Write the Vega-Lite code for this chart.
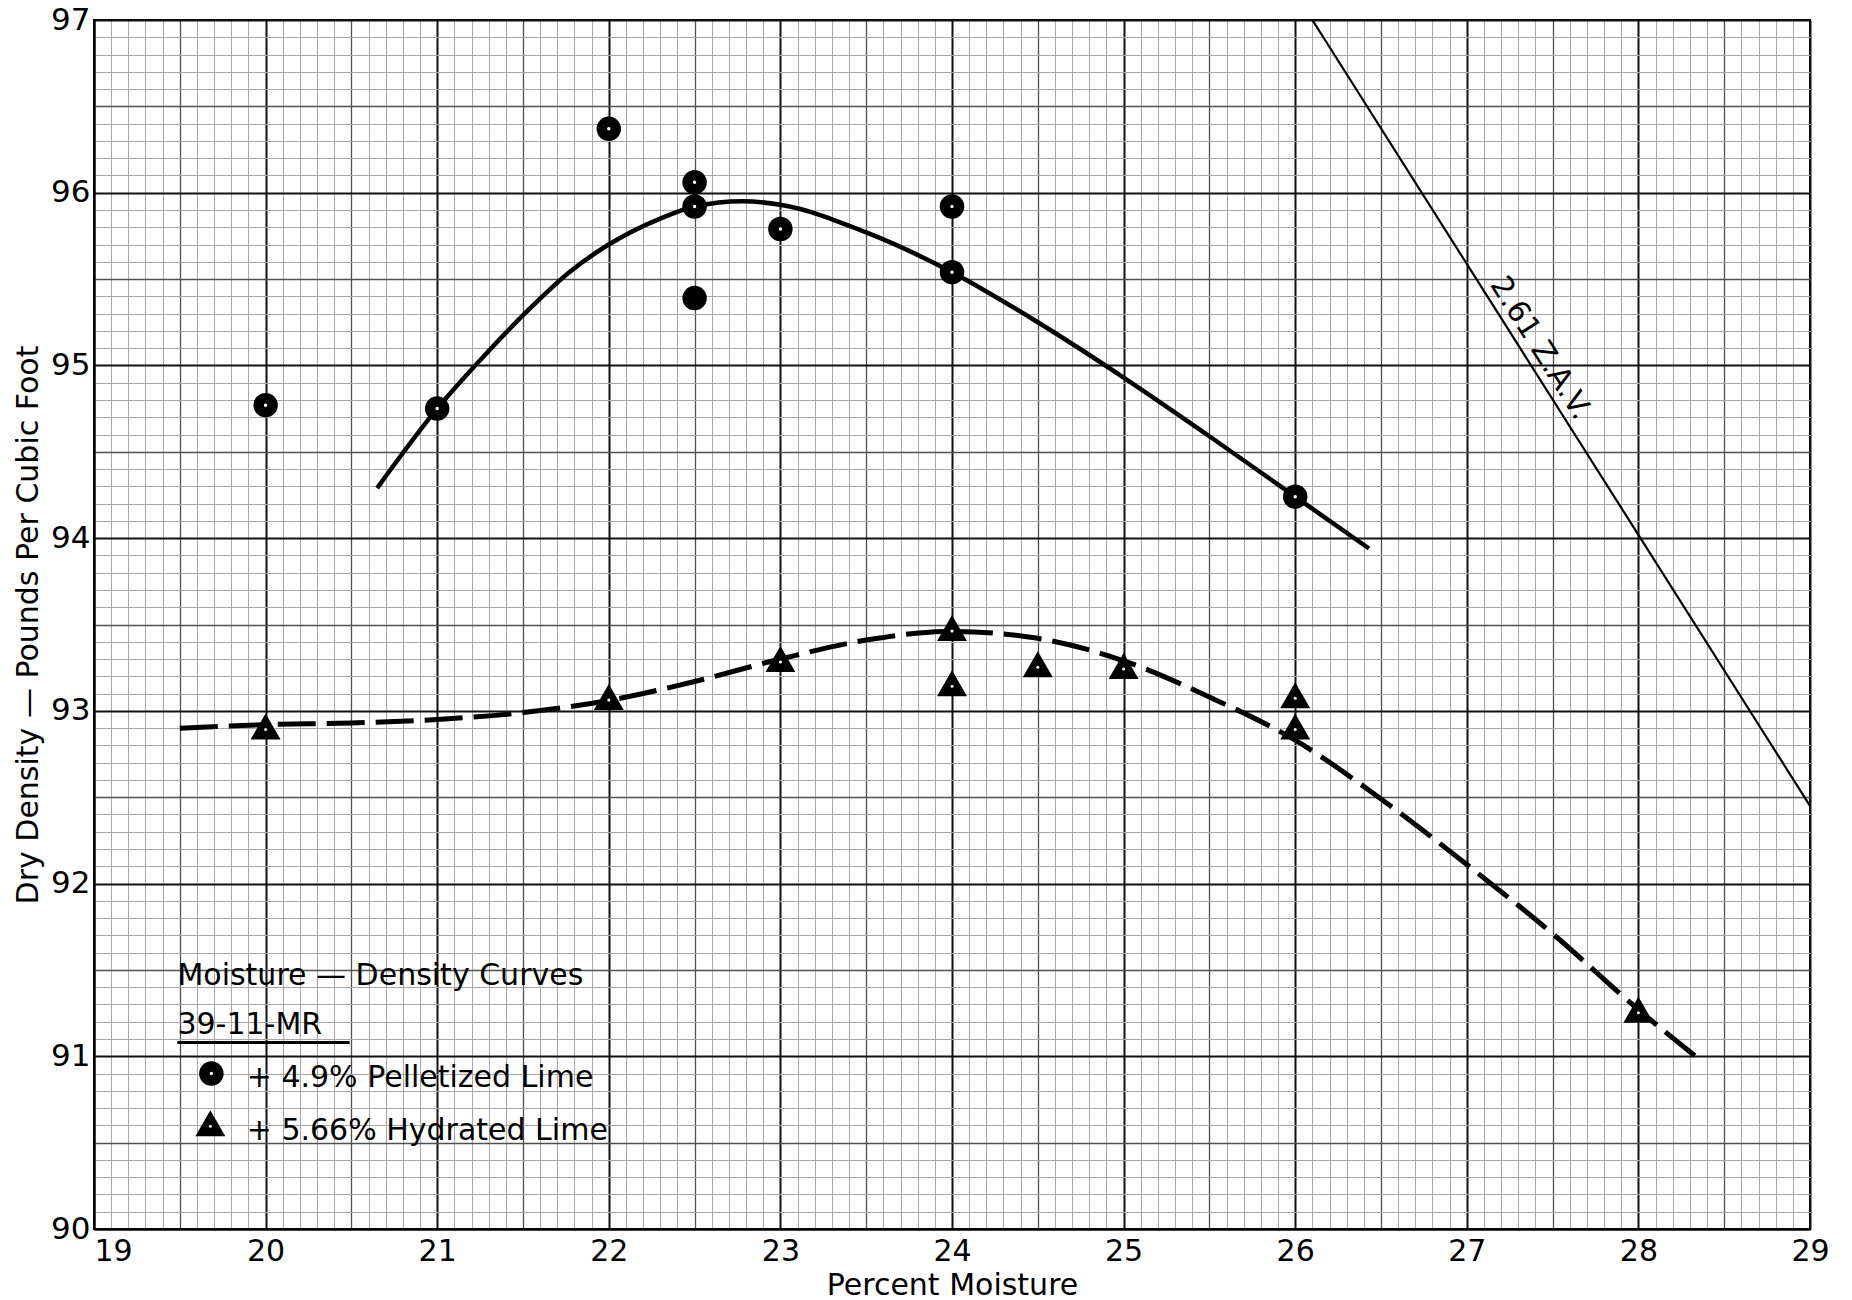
{
  "$schema": "https://vega.github.io/schema/vega-lite/v6.json",
  "width": 1716,
  "height": 1209,
  "autosize": {"type": "none"},
  "padding": {"left": 94, "top": 20, "right": 42, "bottom": 71},
  "background": "white",
  "config": {
    "view": {"stroke": "black", "strokeWidth": 2},
    "font": "DejaVu Sans"
  },
  "datasets": {
    "zav": [
      {"x": 26.10, "y": 97.0},
      {"x": 29.0, "y": 92.45}
    ],
    "pelletized_curve": [
      {"x": 20.65, "y": 94.29},
      {"x": 21.0, "y": 94.75},
      {"x": 21.25, "y": 95.03},
      {"x": 21.53, "y": 95.32},
      {"x": 21.77, "y": 95.54},
      {"x": 22.0, "y": 95.70},
      {"x": 22.3, "y": 95.85},
      {"x": 22.5, "y": 95.92},
      {"x": 22.78, "y": 95.95},
      {"x": 23.0, "y": 95.93},
      {"x": 23.5, "y": 95.77},
      {"x": 24.0, "y": 95.54},
      {"x": 24.5, "y": 95.25},
      {"x": 25.0, "y": 94.93},
      {"x": 25.5, "y": 94.59},
      {"x": 26.0, "y": 94.24},
      {"x": 26.43, "y": 93.94}
    ],
    "hydrated_curve": [
      {"x": 19.5, "y": 92.90},
      {"x": 20.0, "y": 92.92},
      {"x": 20.5, "y": 92.93},
      {"x": 21.0, "y": 92.95},
      {"x": 21.5, "y": 92.99},
      {"x": 22.0, "y": 93.06},
      {"x": 22.5, "y": 93.17},
      {"x": 23.0, "y": 93.30},
      {"x": 23.5, "y": 93.41},
      {"x": 24.0, "y": 93.46},
      {"x": 24.5, "y": 93.42},
      {"x": 25.0, "y": 93.29},
      {"x": 25.5, "y": 93.08},
      {"x": 26.0, "y": 92.83},
      {"x": 26.5, "y": 92.49},
      {"x": 27.0, "y": 92.11},
      {"x": 27.5, "y": 91.71},
      {"x": 28.0, "y": 91.27},
      {"x": 28.37, "y": 90.97}
    ],
    "pelletized": [
      {"x": 20, "y": 94.77, "kind": "ring"},
      {"x": 21, "y": 94.75, "kind": "ring"},
      {"x": 22, "y": 96.37, "kind": "ring"},
      {"x": 22.5, "y": 96.06, "kind": "ring"},
      {"x": 22.5, "y": 95.92, "kind": "ring"},
      {"x": 22.5, "y": 95.39, "kind": "solid"},
      {"x": 23, "y": 95.79, "kind": "ring"},
      {"x": 24, "y": 95.92, "kind": "ring"},
      {"x": 24, "y": 95.54, "kind": "ring"},
      {"x": 26, "y": 94.24, "kind": "ring"}
    ],
    "hydrated": [
      {"x": 20, "y": 92.91},
      {"x": 22, "y": 93.08},
      {"x": 23, "y": 93.30},
      {"x": 24, "y": 93.48},
      {"x": 24, "y": 93.16},
      {"x": 24.5, "y": 93.27},
      {"x": 25, "y": 93.26},
      {"x": 26, "y": 93.09},
      {"x": 26, "y": 92.91},
      {"x": 28, "y": 91.27}
    ],
    "legend_circle": [{"x": 19.684, "y": 90.90}],
    "legend_triangle": [{"x": 19.678, "y": 90.612}],
    "legend_text": [
      {"x": 19.486, "y": 91.41, "t": "Moisture — Density Curves"},
      {"x": 19.486, "y": 91.13, "t": "39-11-MR"},
      {"x": 19.89, "y": 90.824, "t": "+ 4.9% Pelletized Lime"},
      {"x": 19.89, "y": 90.515, "t": "+ 5.66% Hydrated Lime"}
    ],
    "legend_rule": [{"x": 19.486, "x2": 20.49, "y": 91.08}],
    "zav_label": [{"x": 27.345, "y": 95.047, "t": "2.61 Z.A.V."}]
  },
  "encoding": {
    "x": {
      "field": "x",
      "type": "quantitative",
      "scale": {"domain": [19, 29], "nice": false, "zero": false},
      "axis": {
        "title": "Percent Moisture",
        "tickCount": 100,
        "grid": true,
        "gridColor": {
          "condition": [
            {"test": "abs(datum.value - round(datum.value)) < 0.001", "value": "#111111"},
            {"test": "abs(datum.value * 2 - round(datum.value * 2)) < 0.001", "value": "#505050"}
          ],
          "value": "#a8a8a8"
        },
        "gridWidth": {
          "condition": [
            {"test": "abs(datum.value - round(datum.value)) < 0.001", "value": 2},
            {"test": "abs(datum.value * 2 - round(datum.value * 2)) < 0.001", "value": 1.3}
          ],
          "value": 1
        },
        "gridOpacity": 1,
        "ticks": false,
        "domain": true,
        "domainColor": "black",
        "domainWidth": 2,
        "labelExpr": "abs(datum.value - round(datum.value)) < 0.001 ? '' + round(datum.value) : ''",
        "labelAlign": {"condition": {"test": "datum.value < 19.05", "value": "left"}, "value": "center"},
        "labelFont": "DejaVu Sans",
        "labelFontSize": 30,
        "labelColor": "black",
        "labelPadding": 7,
        "labelOverlap": false,
        "labelFlush": false,
        "labelBound": false,
        "titleFont": "DejaVu Sans",
        "titleFontSize": 30,
        "titleFontWeight": "normal",
        "titleColor": "black",
        "titlePadding": 4
      }
    },
    "y": {
      "field": "y",
      "type": "quantitative",
      "scale": {"domain": [90, 97], "nice": false, "zero": false},
      "axis": {
        "title": "Dry Density — Pounds Per Cubic Foot",
        "tickCount": 70,
        "grid": true,
        "gridColor": {
          "condition": [
            {"test": "abs(datum.value - round(datum.value)) < 0.001", "value": "#111111"},
            {"test": "abs(datum.value * 2 - round(datum.value * 2)) < 0.001", "value": "#505050"}
          ],
          "value": "#a8a8a8"
        },
        "gridWidth": {
          "condition": [
            {"test": "abs(datum.value - round(datum.value)) < 0.001", "value": 2},
            {"test": "abs(datum.value * 2 - round(datum.value * 2)) < 0.001", "value": 1.3}
          ],
          "value": 1
        },
        "gridOpacity": 1,
        "ticks": false,
        "domain": true,
        "domainColor": "black",
        "domainWidth": 2,
        "labelExpr": "abs(datum.value - round(datum.value)) < 0.001 ? '' + round(datum.value) : ''",
        "labelFont": "DejaVu Sans",
        "labelFontSize": 31,
        "labelColor": "black",
        "labelPadding": 4,
        "labelOverlap": false,
        "labelFlush": false,
        "labelBound": false,
        "titleFont": "DejaVu Sans",
        "titleFontSize": 30,
        "titleFontWeight": "normal",
        "titleColor": "black",
        "titlePadding": 7
      }
    }
  },
  "layer": [
    {
      "data": {"name": "zav"},
      "mark": {"type": "line", "color": "black", "strokeWidth": 2.2}
    },
    {
      "data": {"name": "pelletized_curve"},
      "mark": {"type": "line", "color": "black", "strokeWidth": 4.5, "interpolate": "monotone"}
    },
    {
      "data": {"name": "hydrated_curve"},
      "mark": {"type": "line", "color": "black", "strokeWidth": 5, "interpolate": "monotone", "strokeDash": [38, 11]}
    },
    {
      "data": {"name": "pelletized"},
      "mark": {"type": "point", "shape": "circle", "filled": true, "color": "black", "size": 600, "opacity": 1}
    },
    {
      "data": {"name": "pelletized"},
      "transform": [{"filter": "datum.kind == 'ring'"}],
      "mark": {"type": "point", "shape": "circle", "filled": true, "color": "white", "size": 12, "opacity": 1}
    },
    {
      "data": {"name": "hydrated"},
      "mark": {"type": "point", "shape": "triangle-up", "filled": true, "color": "black", "size": 900, "opacity": 1}
    },
    {
      "data": {"name": "hydrated"},
      "mark": {"type": "point", "shape": "circle", "filled": true, "color": "white", "size": 9, "opacity": 1, "yOffset": 3}
    },
    {
      "data": {"name": "legend_circle"},
      "mark": {"type": "point", "shape": "circle", "filled": true, "color": "black", "size": 600, "opacity": 1}
    },
    {
      "data": {"name": "legend_circle"},
      "mark": {"type": "point", "shape": "circle", "filled": true, "color": "white", "size": 12, "opacity": 1}
    },
    {
      "data": {"name": "legend_triangle"},
      "mark": {"type": "point", "shape": "triangle-up", "filled": true, "color": "black", "size": 900, "opacity": 1}
    },
    {
      "data": {"name": "legend_triangle"},
      "mark": {"type": "point", "shape": "circle", "filled": true, "color": "white", "size": 9, "opacity": 1, "yOffset": 3}
    },
    {
      "data": {"name": "legend_rule"},
      "mark": {"type": "rule", "color": "black", "strokeWidth": 3},
      "encoding": {"x2": {"field": "x2"}}
    },
    {
      "data": {"name": "legend_text"},
      "mark": {"type": "text", "align": "left", "baseline": "alphabetic", "fontSize": 30, "font": "DejaVu Sans", "color": "black"},
      "encoding": {"text": {"field": "t", "type": "nominal"}}
    },
    {
      "data": {"name": "zav_label"},
      "mark": {"type": "text", "align": "center", "baseline": "alphabetic", "fontSize": 30, "font": "DejaVu Sans", "color": "black", "angle": 57.7, "dy": -8},
      "encoding": {"text": {"field": "t", "type": "nominal"}}
    }
  ]
}
